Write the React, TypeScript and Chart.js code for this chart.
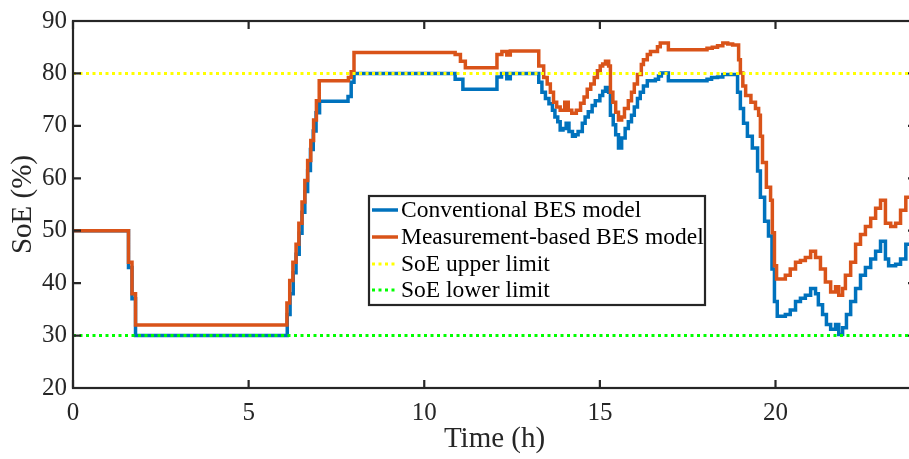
import React, { useEffect, useRef } from "react";
import { Chart, registerables } from "chart.js";

Chart.register(...registerables);

// Time (h) at which each new value starts (stair-step)
const convTimes = [
  0, 1.58, 1.68, 1.78, 6.1, 6.18, 6.27, 6.35, 6.44, 6.52, 6.6, 6.68, 6.76, 6.84, 6.92, 7.02,
  7.83, 7.92, 8.0, 10.88, 11.1, 12.07, 12.2, 12.35, 12.45, 13.26, 13.35, 13.45, 13.55, 13.65,
  13.72, 13.8, 13.87, 13.95, 14.04, 14.12, 14.22, 14.3, 14.38, 14.5, 14.58, 14.67, 14.78, 14.87,
  15.0, 15.08, 15.16, 15.25, 15.3, 15.38, 15.45, 15.53, 15.62, 15.72, 15.81, 15.9, 15.98, 16.07,
  16.15, 16.24, 16.35, 16.58, 16.67, 16.75, 16.95, 18.05, 18.18, 18.35, 18.5, 18.92, 19.0, 19.09,
  19.2, 19.34, 19.49, 19.57, 19.69, 19.8, 19.9, 19.97, 20.05, 20.28, 20.42, 20.57, 20.71, 20.85,
  21.0, 21.14, 21.22, 21.34, 21.45, 21.57, 21.71, 21.8, 21.91, 22.02, 22.14, 22.28, 22.42, 22.56,
  22.71, 22.85, 22.99, 23.13, 23.22, 23.42, 23.56, 23.71, 23.85, 24.0,
];
const convValues = [
  50, 43, 37, 30, 34, 38, 42, 45.5, 49.5, 53.5, 57.5, 61.5, 65.5, 69, 72.5, 74.7,
  75.6, 78.3, 80, 78.9, 77, 79.3, 80, 79, 80, 78.3, 76.4, 75.2, 74.2, 73,
  71.7, 70.8, 69.2, 69.5, 70.5, 68.9, 68, 68.3, 68.9, 70.5, 71.7, 72.7, 73.9, 74.8,
  75.8, 76.6, 77.3, 76.4, 72, 70.2, 68.3, 65.8, 67.7, 69.5, 70.8, 72, 73.6, 75.2,
  76.4, 77.6, 78.6, 78.9, 79.5, 80.1, 78.6, 78.9, 79.2, 79.3, 79.8, 76.4, 73.3, 70.5,
  68, 65.8, 61.4, 56.4, 51.8, 49, 42.7, 36.5, 33.7, 34, 34.9, 36.5, 37.1, 37.7,
  39, 38, 35.9, 34, 32.1, 31.2, 32.1, 30.2, 31.5, 34, 36.5, 39, 41.5, 43,
  44.6, 46.1, 48, 44.6, 43.3, 43.6, 44.6, 47.4, 49, 50,
];

const measTimes = [
  0, 1.58, 1.68, 1.78, 6.09, 6.17, 6.26, 6.35, 6.43, 6.52, 6.6, 6.68, 6.77, 6.85, 6.93, 7.01,
  7.84, 7.92, 8.0, 10.88, 11.03, 11.17, 12.07, 12.21, 12.35, 12.45, 13.26, 13.4, 13.5, 13.59,
  13.68, 13.77, 13.87, 14.0, 14.1, 14.2, 14.33, 14.45, 14.55, 14.64, 14.74, 14.84, 14.93, 15.01,
  15.08, 15.16, 15.25, 15.3, 15.37, 15.45, 15.53, 15.62, 15.7, 15.81, 15.9, 15.98, 16.07, 16.18,
  16.24, 16.35, 16.44, 16.64, 16.72, 16.95, 18.05, 18.2, 18.35, 18.5, 18.64, 18.78, 18.95, 19.0,
  19.07, 19.15, 19.3, 19.43, 19.52, 19.57, 19.63, 19.74, 19.86, 19.91, 19.97, 20.03, 20.28, 20.42,
  20.57, 20.71, 20.85, 21.0, 21.14, 21.28, 21.42, 21.57, 21.71, 21.8, 21.91, 21.99, 22.14, 22.28,
  22.42, 22.56, 22.71, 22.85, 22.99, 23.13, 23.28, 23.42, 23.56, 23.71, 23.85, 24.0,
];
const measValues = [
  50, 44, 38, 32, 36.2, 40.5, 44, 47.4, 51.4, 55.5, 59.6, 63.4, 67.2, 71.1, 74.8, 78.6,
  79.2, 80.3, 84, 83.6, 82.3, 81.1, 83.6, 84.2, 83.5, 84.3, 81.4, 79.2, 78, 76.4,
  74.5, 73.6, 73, 74.5, 73, 72.4, 73, 74.3, 75.5, 77, 78, 79.2, 80.5, 81.4,
  81.8, 82.3, 81.4, 76.4, 74.5, 72.6, 71.1, 71.7, 73.3, 74.8, 76.4, 78, 79.8, 81.7,
  82.6, 83.6, 84.2, 85.1, 85.8, 84.5, 84.8, 85, 85.3, 85.8, 85.6, 85.4, 82.6, 80.1,
  77.6, 75.8, 74.5, 73.3, 72, 68, 63, 58.3, 55.8, 49.6, 43.3, 40.8, 41.5, 42.7,
  44, 44.3, 44.9, 46.1, 44.9, 42.7, 40.2, 38.3, 39.3, 37.7, 39, 41.5, 44, 47.4,
  49.3, 50.8, 52.4, 54.3, 55.8, 51.4, 50.8, 51.4, 53.9, 56.4, 57.5, 58,
];

const upperLimit = 80;
const lowerLimit = 30;
const xRange = [0, 24];
const yRange = [20, 90];
const xTicks = [0, 5, 10, 15, 20];
const yTicks = [20, 30, 40, 50, 60, 70, 80, 90];
const seriesLabels = [
  "Conventional BES model",
  "Measurement-based BES model",
  "SoE upper limit",
  "SoE lower limit",
];

const BLUE = "#0072BD";
const ORANGE = "#D95319";
const YELLOW = "#FFFF00";
const GREEN = "#00FF00";
const AXIS = "#262626";
const FONT = "'Liberation Serif', 'Times New Roman', serif";
const DOTS = [3, 3.5];

const toPoints = (xs: number[], ys: number[]) => xs.map((x, i) => ({ x, y: ys[i] }));

const boxPlugin = {
  id: "matlabBox",
  afterDraw(chart: any) {
    const { ctx, chartArea } = chart;
    const { left, right, top, bottom } = chartArea;
    const xs = chart.scales.x;
    const ys = chart.scales.y;
    ctx.save();
    ctx.strokeStyle = AXIS;
    ctx.lineWidth = 2.2;
    ctx.strokeRect(left, top, right - left, bottom - top);
    ctx.beginPath();
    const tl = 8;
    xTicks.forEach((t) => {
      const px = xs.getPixelForValue(t);
      ctx.moveTo(px, bottom);
      ctx.lineTo(px, bottom - tl);
      ctx.moveTo(px, top);
      ctx.lineTo(px, top + tl);
    });
    yTicks.forEach((t) => {
      const py = ys.getPixelForValue(t);
      ctx.moveTo(left, py);
      ctx.lineTo(left + tl, py);
      ctx.moveTo(right, py);
      ctx.lineTo(right - tl, py);
    });
    ctx.stroke();

    // legend
    const x0 = left + 296;
    const y0 = top + 175;
    const w = 336;
    const h = 109;
    ctx.fillStyle = "#ffffff";
    ctx.fillRect(x0, y0, w, h);
    ctx.lineWidth = 2.2;
    ctx.strokeStyle = AXIS;
    ctx.strokeRect(x0, y0, w, h);
    const styles = [
      { c: BLUE, dash: [] as number[], lw: 3.5 },
      { c: ORANGE, dash: [] as number[], lw: 3.5 },
      { c: YELLOW, dash: DOTS, lw: 3 },
      { c: GREEN, dash: DOTS, lw: 3 },
    ];
    const rowY = [14, 41, 68, 94];
    ctx.font = `23.5px ${FONT}`;
    ctx.textBaseline = "middle";
    ctx.textAlign = "left";
    seriesLabels.forEach((lab, i) => {
      const yy = y0 + rowY[i];
      ctx.beginPath();
      ctx.setLineDash(styles[i].dash);
      ctx.strokeStyle = styles[i].c;
      ctx.lineWidth = styles[i].lw;
      ctx.moveTo(x0 + 3, yy);
      ctx.lineTo(x0 + 29, yy);
      ctx.stroke();
      ctx.setLineDash([]);
      ctx.fillStyle = "#000000";
      ctx.fillText(lab, x0 + 32, yy + 1);
    });
    ctx.restore();
  },
};

export default function App() {
  const ref = useRef<HTMLCanvasElement | null>(null);

  useEffect(() => {
    if (!ref.current) return;
    const chart = new Chart(ref.current, {
      type: "line",
      data: {
        datasets: [
          {
            label: seriesLabels[0],
            data: toPoints(convTimes, convValues),
            borderColor: BLUE,
            borderWidth: 3.5,
            pointRadius: 0,
            stepped: "before",
            fill: false,
            order: 4,
          },
          {
            label: seriesLabels[1],
            data: toPoints(measTimes, measValues),
            borderColor: ORANGE,
            borderWidth: 3.5,
            pointRadius: 0,
            stepped: "before",
            fill: false,
            order: 3,
          },
          {
            label: seriesLabels[2],
            data: toPoints(xRange, [upperLimit, upperLimit]),
            borderColor: YELLOW,
            borderWidth: 3,
            borderDash: DOTS,
            pointRadius: 0,
            fill: false,
            order: 2,
          },
          {
            label: seriesLabels[3],
            data: toPoints(xRange, [lowerLimit, lowerLimit]),
            borderColor: GREEN,
            borderWidth: 3,
            borderDash: DOTS,
            pointRadius: 0,
            fill: false,
            order: 1,
          },
        ],
      },
      options: {
        animation: false,
        responsive: false,
        devicePixelRatio: 1,
        layout: { padding: { top: 14, right: 14, left: 0, bottom: 0 } },
        plugins: { legend: { display: false }, tooltip: { enabled: false } },
        scales: {
          x: {
            type: "linear",
            min: xRange[0],
            max: xRange[1],
            grid: { display: false, drawTicks: false },
            border: { display: false },
            ticks: {
              stepSize: 5,
              includeBounds: false,
              autoSkip: false,
              maxRotation: 0,
              padding: 10,
              color: AXIS,
              font: { family: FONT, size: 25 },
            },
            title: {
              display: true,
              text: "Time (h)",
              color: AXIS,
              font: { family: FONT, size: 29 },
              padding: { top: 0, bottom: 2 },
            },
            afterFit: (s: any) => {
              s.height = 71;
            },
          },
          y: {
            type: "linear",
            min: yRange[0],
            max: yRange[1],
            grid: { display: false, drawTicks: false },
            border: { display: false },
            ticks: {
              stepSize: 10,
              padding: 6,
              color: AXIS,
              font: { family: FONT, size: 25 },
            },
            title: {
              display: true,
              text: "SoE (%)",
              color: AXIS,
              font: { family: FONT, size: 29 },
              padding: { top: 6, bottom: 0 },
            },
            afterFit: (s: any) => {
              s.width = 73;
            },
          },
        },
      },
      plugins: [boxPlugin],
    });
    return () => chart.destroy();
  }, []);

  return (
    <div
      style={{
        position: "fixed",
        left: 0,
        top: 0,
        width: 909,
        height: 459,
        overflow: "hidden",
        background: "#fff",
      }}
    >
      <canvas ref={ref} width={930} height={459} style={{ display: "block" }} />
    </div>
  );
}
